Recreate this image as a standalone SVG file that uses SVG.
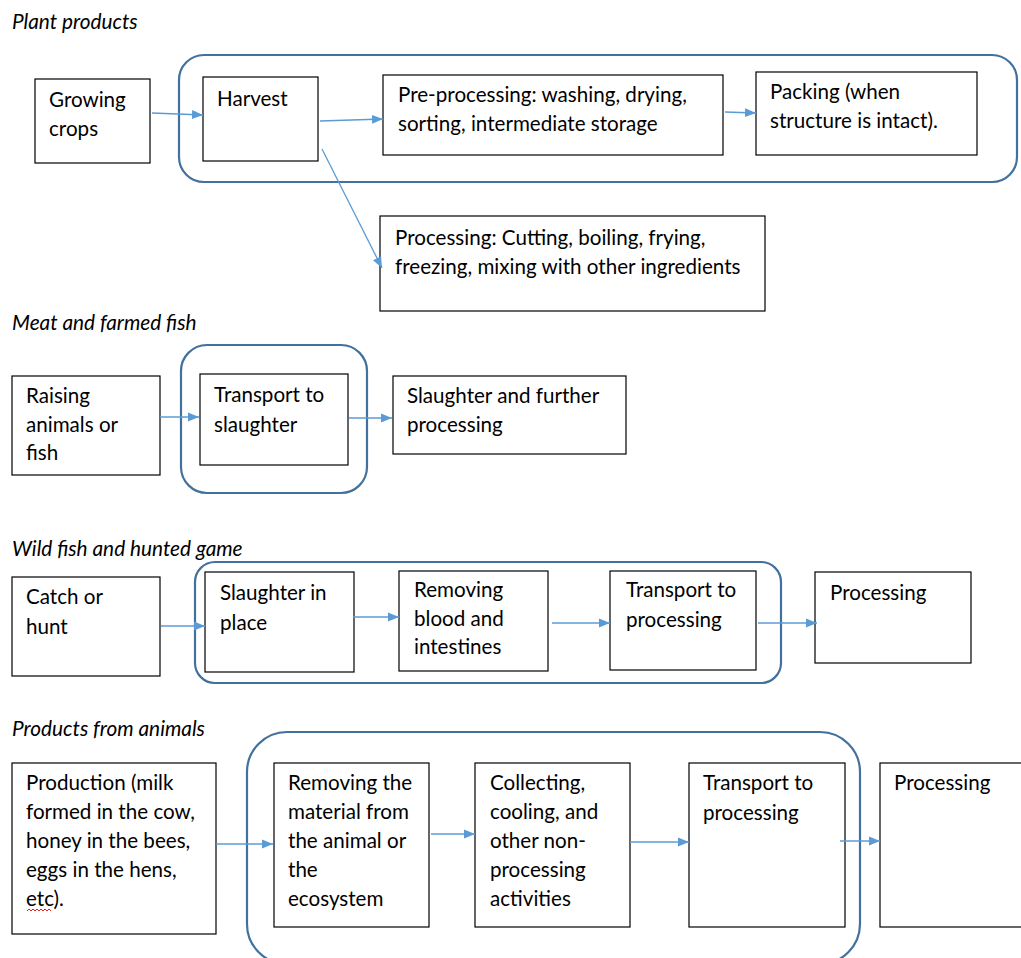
<svg xmlns="http://www.w3.org/2000/svg" width="1021" height="958" viewBox="0 0 1021 958">
<style>
.bg{fill:#ffffff}
.box{fill:#ffffff;stroke:#000000;stroke-width:1.2}
.grp{fill:none;stroke:#41719c;stroke-width:2.2}
.t{font-family:Lato,"Liberation Sans",sans-serif;font-size:20.6px;fill:#000000}
.h{font-family:Lato,"Liberation Sans",sans-serif;font-size:20.8px;font-style:italic;fill:#000000}
.c{fill:none;stroke:#5b9bd5;stroke-width:1.3;marker-end:url(#ah)}
</style>
<defs>
<marker id="ah" viewBox="0 0 11 10" refX="11" refY="5" markerWidth="11" markerHeight="10" markerUnits="userSpaceOnUse" orient="auto">
<path d="M0,0.5 L11,5 L0,9.5 Z" fill="#5b9bd5"/>
</marker>
</defs>
<rect class="bg" x="0" y="0" width="1021" height="958"/>

<!-- section titles -->
<text class="h" x="12" y="29">Plant products</text>
<text class="h" x="12" y="330">Meat and farmed fish</text>
<text class="h" x="12" y="556">Wild fish and hunted game</text>
<text class="h" x="12" y="736">Products from animals</text>

<!-- grouping frames -->
<g id="frames">
<rect class="grp" x="179" y="55" width="838" height="127" rx="25"/>
<rect class="grp" x="181" y="345" width="186" height="148" rx="26"/>
<rect class="grp" x="195" y="562" width="586" height="121" rx="20"/>
<rect class="grp" x="247" y="732" width="613" height="232" rx="40"/>
</g>

<!-- Plant products -->
<g id="growing-crops"><rect class="box" x="35" y="79" width="115" height="84"/><text class="t" x="49" y="107">Growing</text><text class="t" x="49" y="136">crops</text></g>
<g id="harvest"><rect class="box" x="203" y="77" width="115" height="84"/><text class="t" x="217" y="106">Harvest</text></g>
<g id="pre-processing"><rect class="box" x="383" y="75" width="340" height="80"/><text class="t" x="398" y="102">Pre-processing: washing, drying,</text><text class="t" x="398" y="131">sorting, intermediate storage</text></g>
<g id="packing"><rect class="box" x="756" y="72" width="221" height="83"/><text class="t" x="770" y="99">Packing (when</text><text class="t" x="770" y="128">structure is intact).</text></g>
<g id="processing-plant"><rect class="box" x="380" y="216" width="385" height="95"/><text class="t" x="395" y="245">Processing: Cutting, boiling, frying,</text><text class="t" x="395" y="274">freezing, mixing with other ingredients</text></g>

<!-- Meat and farmed fish -->
<g id="raising"><rect class="box" x="12" y="376" width="148" height="99"/><text class="t" x="26" y="403">Raising</text><text class="t" x="26" y="432">animals or</text><text class="t" x="26" y="460">fish</text></g>
<g id="transport-slaughter"><rect class="box" x="200" y="374" width="148" height="91"/><text class="t" x="214" y="402">Transport to</text><text class="t" x="214" y="432">slaughter</text></g>
<g id="slaughter-further"><rect class="box" x="393" y="376" width="233" height="78"/><text class="t" x="407" y="403">Slaughter and further</text><text class="t" x="407" y="432">processing</text></g>

<!-- Wild fish and hunted game -->
<g id="catch"><rect class="box" x="12" y="577" width="148" height="99"/><text class="t" x="26" y="604">Catch or</text><text class="t" x="26" y="634">hunt</text></g>
<g id="slaughter-place"><rect class="box" x="205" y="572" width="149" height="100"/><text class="t" x="220" y="600">Slaughter in</text><text class="t" x="220" y="630">place</text></g>
<g id="removing-blood"><rect class="box" x="399" y="571" width="149" height="100"/><text class="t" x="414" y="597">Removing</text><text class="t" x="414" y="626">blood and</text><text class="t" x="414" y="654">intestines</text></g>
<g id="transport-processing-wild"><rect class="box" x="610" y="571" width="146" height="99"/><text class="t" x="626" y="597">Transport to</text><text class="t" x="626" y="627">processing</text></g>
<g id="processing-wild"><rect class="box" x="815" y="572" width="156" height="91"/><text class="t" x="830" y="600">Processing</text></g>

<!-- Products from animals -->
<g id="production"><rect class="box" x="12" y="763" width="204" height="171"/><text class="t" x="26" y="790">Production (milk</text><text class="t" x="26" y="819">formed in the cow,</text><text class="t" x="26" y="848">honey in the bees,</text><text class="t" x="26" y="877">eggs in the hens,</text><text class="t" x="26" y="906">etc).</text><path d="M27,911 l2,-2 l2,2 l2,-2 l2,2 l2,-2 l2,2 l2,-2 l2,2 l2,-2 l2,2 l2,-2 l2,2" fill="none" stroke="#e02020" stroke-width="1"/></g>
<g id="removing-material"><rect class="box" x="274" y="763" width="155" height="164"/><text class="t" x="288" y="790">Removing the</text><text class="t" x="288" y="819">material from</text><text class="t" x="288" y="848">the animal or</text><text class="t" x="288" y="877">the</text><text class="t" x="288" y="906">ecosystem</text></g>
<g id="collecting"><rect class="box" x="475" y="763" width="155" height="164"/><text class="t" x="490" y="790">Collecting,</text><text class="t" x="490" y="819">cooling, and</text><text class="t" x="490" y="848">other non-</text><text class="t" x="490" y="877">processing</text><text class="t" x="490" y="906">activities</text></g>
<g id="transport-processing-animal"><rect class="box" x="689" y="763" width="156" height="164"/><text class="t" x="703" y="790">Transport to</text><text class="t" x="703" y="820">processing</text></g>
<g id="processing-animal"><rect class="box" x="880" y="763" width="150" height="164"/><text class="t" x="894" y="790">Processing</text></g>

<!-- connectors -->
<g id="connectors">
<path class="c" d="M152,113 L203,115"/>
<path class="c" d="M320,121 L383,119"/>
<path class="c" d="M322,149 L382,268"/>
<path class="c" d="M725,112 L756,113"/>
<path class="c" d="M160,417 L199,417"/>
<path class="c" d="M349,418 L392,418"/>
<path class="c" d="M161,626 L205,626"/>
<path class="c" d="M353,617 L399,617"/>
<path class="c" d="M552,623 L610,623"/>
<path class="c" d="M758,623 L817,623"/>
<path class="c" d="M216,844 L273,844"/>
<path class="c" d="M431,834 L475,834"/>
<path class="c" d="M630,842 L689,842"/>
<path class="c" d="M840,841 L880,841"/>
</g>
</svg>
